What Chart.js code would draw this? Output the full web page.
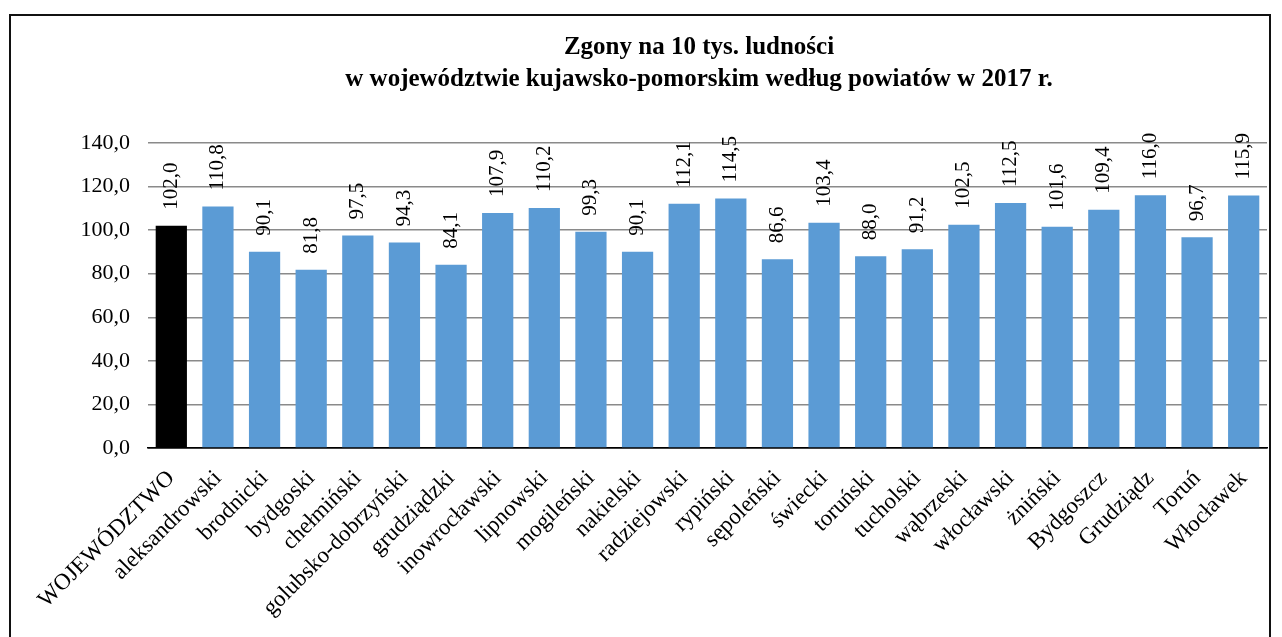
<!DOCTYPE html>
<html>
<head>
<meta charset="utf-8">
<script src="https://cdn.jsdelivr.net/npm/chart.js@4/dist/chart.umd.min.js"></script>
<style>
  html, body { margin: 0; padding: 0; background: #fff; overflow: hidden; }
  #frame {
    position: absolute; left: 9px; top: 14px;
    width: 1258px; height: 700px;
    border: 2px solid #111;
  }
  #wrap { position: absolute; left: 0; top: 0; width: 1282px; height: 637px; }
</style>
</head>
<body>
<div id="frame"></div>
<div id="wrap"><canvas id="chart"></canvas></div>
<script>
const categories = [
  "WOJEWÓDZTWO", "aleksandrowski", "brodnicki", "bydgoski", "chełmiński",
  "golubsko-dobrzyński", "grudziądzki", "inowrocławski", "lipnowski", "mogileński",
  "nakielski", "radziejowski", "rypiński", "sępoleński", "świecki", "toruński",
  "tucholski", "wąbrzeski", "włocławski", "żniński", "Bydgoszcz", "Grudziądz",
  "Toruń", "Włocławek"
];
const deaths = [
  102.0, 110.8, 90.1, 81.8, 97.5, 94.3, 84.1, 107.9, 110.2, 99.3,
  90.1, 112.1, 114.5, 86.6, 103.4, 88.0, 91.2, 102.5, 112.5, 101.6,
  109.4, 116.0, 96.7, 115.9
];
const titleLines = [
  "Zgony na 10 tys. ludności",
  "w województwie kujawsko-pomorskim według powiatów w 2017 r."
];

const fmt = v => v.toFixed(1).replace('.', ',');
const SERIF = "'Liberation Serif', 'Times New Roman', serif";

// two-line title, centred where the original sits
const titleText = {
  id: 'titleText',
  afterDraw(chart) {
    const ctx = chart.ctx;
    ctx.save();
    ctx.font = "bold 25px " + SERIF;
    ctx.fillStyle = '#000';
    ctx.textAlign = 'center';
    ctx.textBaseline = 'middle';
    titleLines.forEach((t, i) => ctx.fillText(t, 699, 48 + i * 32));
    ctx.restore();
  }
};

// value labels, rotated, above each bar
const valueLabels = {
  id: 'valueLabels',
  afterDatasetsDraw(chart) {
    const ctx = chart.ctx;
    const meta = chart.getDatasetMeta(0);
    ctx.save();
    ctx.font = "21px " + SERIF;
    ctx.fillStyle = '#000';
    meta.data.forEach((bar, i) => {
      ctx.save();
      ctx.translate(bar.x, bar.y - 16);
      ctx.rotate(-Math.PI / 2);
      ctx.textAlign = 'left';
      ctx.textBaseline = 'middle';
      ctx.fillText(fmt(deaths[i]), 0, 0);
      ctx.restore();
    });
    ctx.restore();
  }
};

new Chart(document.getElementById('chart'), {
  type: 'bar',
  data: {
    labels: categories,
    datasets: [{
      data: deaths,
      backgroundColor: deaths.map((v, i) => i === 0 ? '#000000' : '#5B9BD5'),
      borderWidth: 0,
      categoryPercentage: 1.0,
      barPercentage: 0.67
    }]
  },
  options: {
    responsive: true,
    maintainAspectRatio: false,
    animation: false,
    layout: { padding: { left: 0, right: 15, top: 143, bottom: 0 } },
    plugins: {
      legend: { display: false },
      tooltip: { enabled: false },
      title: { display: false }
    },
    scales: {
      x: {
        grid: { display: false },
        border: { display: true, color: '#000', width: 1.5 },
        ticks: {
          color: '#000',
          font: { family: SERIF, size: 23 },
          minRotation: 45,
          maxRotation: 45,
          autoSkip: false,
          padding: 9
        },
        afterFit(scale) { scale.height = 189; }
      },
      y: {
        min: 0,
        max: 140,
        border: { display: false },
        grid: {
          drawTicks: false,
          lineWidth: 1.5,
          color: ctx => ctx.tick && ctx.tick.value === 0 ? '#000' : '#8a8a8a'
        },
        ticks: {
          stepSize: 20,
          color: '#000',
          padding: 18,
          font: { family: SERIF, size: 22 },
          callback: v => fmt(v)
        },
        afterFit(scale) { scale.width = 148; }
      }
    }
  },
  plugins: [valueLabels, titleText]
});
</script>
</body>
</html>
